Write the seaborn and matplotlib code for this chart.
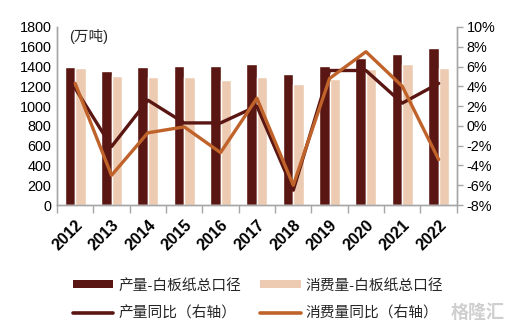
import matplotlib
matplotlib.use("Agg")
import matplotlib.pyplot as plt
from matplotlib.ticker import FuncFormatter, MultipleLocator, FixedLocator
from matplotlib.patches import Patch
from matplotlib.lines import Line2D
import seaborn as sns
import pandas as pd

# 白板纸产量、消费量（万吨）及同比
years = ["2012", "2013", "2014", "2015", "2016", "2017",
         "2018", "2019", "2020", "2021", "2022"]
production = [1395, 1358, 1392, 1402, 1402, 1426, 1328, 1402, 1489, 1523, 1584]
consumption = [1385, 1304, 1294, 1294, 1264, 1297, 1223, 1274, 1372, 1426, 1382]
production_yoy = [3.8, -2.1, 2.6, 0.3, 0.3, 2.0, -6.5, 5.6, 5.6, 2.3, 4.3]
consumption_yoy = [4.3, -5.0, -0.7, -0.1, -2.7, 2.8, -6.0, 4.8, 7.5, 4.0, -3.4]

bar_names = ["产量-白板纸总口径", "消费量-白板纸总口径"]
line_names = ["产量同比（右轴）", "消费量同比（右轴）"]

dark = "#5A1612"
light = "#EDCBB2"
orange = "#C0632B"
axis_grey = "#A6A6A6"

sns.set_theme(style="white")
plt.rcParams["font.family"] = ["Liberation Sans", "Noto Sans CJK SC", "DejaVu Sans"]

bars = pd.DataFrame({
    "year": years * 2,
    "value": production + consumption,
    "series": [bar_names[0]] * len(years) + [bar_names[1]] * len(years),
})
lines = pd.DataFrame({
    "year": years * 2,
    "yoy": production_yoy + consumption_yoy,
    "series": [line_names[0]] * len(years) + [line_names[1]] * len(years),
})

fig = plt.figure(figsize=(5.11, 3.32), dpi=100)
ax = fig.add_axes([0.1115, 0.3825, 0.7825, 0.5362])

sns.barplot(data=bars, x="year", y="value", hue="series",
            palette=[dark, light], width=0.58, gap=0,
            saturation=1, legend=False, ax=ax)

ax2 = ax.twinx()
sns.lineplot(data=lines, x="year", y="yoy", hue="series",
             palette=[dark, orange], linewidth=2.4, legend=False,
             sort=False, ax=ax2)

ax.set_xlim(-0.5, len(years) - 0.5)
ax.set_ylim(0, 1800)
ax.yaxis.set_major_locator(MultipleLocator(200))
ax2.set_ylim(-8, 10)
ax2.yaxis.set_major_locator(MultipleLocator(2))
ax2.yaxis.set_major_formatter(FuncFormatter(lambda v, _: f"{v:.0f}%"))

ax.set_xlabel("")
ax.set_ylabel("")
ax2.set_xlabel("")
ax2.set_ylabel("")

for a in (ax, ax2):
    a.spines["top"].set_visible(False)
    for side in ("left", "right", "bottom"):
        a.spines[side].set_color(axis_grey)
        a.spines[side].set_linewidth(1.0)

ax.tick_params(axis="y", length=0, labelsize=10.4, pad=4, colors="black")
ax2.tick_params(axis="y", length=4, width=1, color=axis_grey,
                labelsize=10.4, pad=3, labelcolor="black", direction="out")
ax.tick_params(axis="x", which="major", length=0, labelsize=11.5, pad=9,
               colors="black")
ax.xaxis.set_minor_locator(FixedLocator([i - 0.5 for i in range(len(years) + 1)]))
ax.tick_params(axis="x", which="minor", length=6, width=1, color=axis_grey,
               direction="out", bottom=True)
for lab in ax.get_xticklabels():
    lab.set_rotation(45)
    lab.set_ha("right")
    lab.set_rotation_mode("anchor")
    lab.set_fontweight("bold")

ax.text(0.03, 0.99, "(万吨)", transform=ax.transAxes, fontsize=10.5,
        ha="left", va="top")

handles = [
    Patch(facecolor=dark, edgecolor="none"),
    Line2D([], [], color=dark, linewidth=2.6, solid_capstyle="round"),
    Patch(facecolor=light, edgecolor="none"),
    Line2D([], [], color=orange, linewidth=2.6, solid_capstyle="round"),
]
labels = [bar_names[0], line_names[0], bar_names[1], line_names[1]]
fig.legend(handles, labels, ncol=2, loc="center",
           bbox_to_anchor=(0.505, 0.098), frameon=False, fontsize=10.6,
           handlelength=2.75, handleheight=0.5, handletextpad=0.35,
           columnspacing=1.3, labelspacing=0.95, borderpad=0)

fig.text(0.988, 0.03, "格隆汇", fontsize=13, color="#CFCFCF",
         ha="right", va="bottom", fontweight="bold")

fig.savefig("out.png", dpi=100)
